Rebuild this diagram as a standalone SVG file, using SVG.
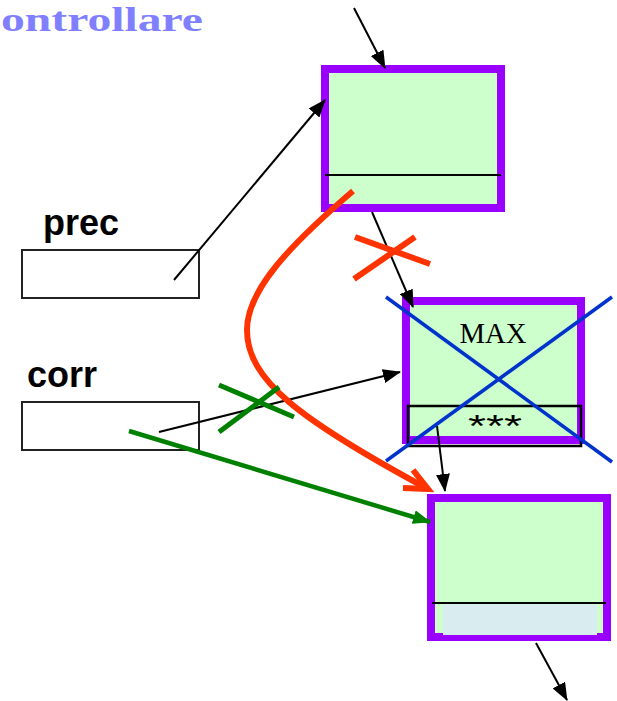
<svg xmlns="http://www.w3.org/2000/svg" width="617" height="701" viewBox="0 0 617 701">
<style>
.node{fill:#ccffcc;stroke:#9900ff;stroke-width:8}
.sep{stroke:#000;stroke-width:2}
.var{fill:#fff;stroke:#222;stroke-width:2}
.lbl{font-family:"Liberation Sans",Arial,sans-serif;font-weight:bold;font-size:36px;fill:#000}
.blk{stroke:#000;stroke-width:2;fill:none}
.red{stroke:#ff3300;stroke-width:6;fill:none}
.grn{stroke:#008000;stroke-width:5;fill:none}
.blue{stroke:#0033cc;stroke-width:3.5}
</style>
<defs>
<marker id="ah" markerWidth="18" markerHeight="14" refX="17" refY="7" orient="auto" markerUnits="userSpaceOnUse">
<path d="M0,0 L18,7 L0,14 Z" fill="#000"/>
</marker>
<marker id="gh" markerWidth="18" markerHeight="14" refX="17" refY="7" orient="auto" markerUnits="userSpaceOnUse">
<path d="M0,0 L18,7 L0,14 Z" fill="#008000"/>
</marker>
</defs>
<rect width="617" height="701" fill="#fff"/>
<text x="1" y="31" font-family="'Liberation Serif','Times New Roman',serif" font-weight="bold" font-size="34" fill="#7f7fff" textLength="202" lengthAdjust="spacingAndGlyphs">ontrollare</text>

<g id="prec">
<text class="lbl" x="43" y="235">prec</text>
<rect class="var" x="22" y="250" width="177" height="48"/>
</g>
<g id="corr">
<text class="lbl" x="27" y="387">corr</text>
<rect class="var" x="22" y="402" width="177" height="48"/>
</g>

<g id="node1">
<rect class="node" x="325" y="69" width="176" height="139"/>
<line class="sep" x1="325" y1="175" x2="501" y2="175"/>
</g>

<g id="node2">
<rect class="node" x="406" y="301" width="175" height="139"/>
<text x="493" y="343" text-anchor="middle" font-family="'Liberation Serif','Times New Roman',serif" font-size="29" fill="#000" textLength="67" lengthAdjust="spacingAndGlyphs">MAX</text>
<rect x="408" y="406" width="173" height="40" fill="none" stroke="#000" stroke-width="2.5"/>
<text x="495" y="437" text-anchor="middle" font-family="'Liberation Sans',Arial,sans-serif" font-size="32" fill="#000" textLength="54" lengthAdjust="spacingAndGlyphs">***</text>
</g>

<g id="node3">
<rect class="node" x="431" y="498" width="176" height="139"/>
<rect x="443" y="604" width="154" height="31" fill="#d9ecef"/>
<line class="sep" x1="432" y1="603" x2="606" y2="603"/>
</g>

<g id="connectors">
<line class="blk" x1="354" y1="8" x2="385" y2="68" marker-end="url(#ah)"/>
<line class="blk" x1="174" y1="280" x2="325" y2="100" marker-end="url(#ah)"/>
<line class="blk" x1="372" y1="212" x2="413" y2="307" marker-end="url(#ah)"/>
<line class="blk" x1="159" y1="432" x2="400" y2="372" marker-end="url(#ah)"/>
<line class="blk" x1="437" y1="426" x2="445" y2="491" marker-end="url(#ah)"/>
<line class="blk" x1="536" y1="643" x2="567" y2="700" marker-end="url(#ah)"/>
<line x1="129" y1="431" x2="430" y2="522" stroke="#008000" stroke-width="4.5" marker-end="url(#gh)"/>
<path class="red" d="M353,191 C290,245 247,290 247,330 C247,380 300,420 428,489"/>
<polyline class="red" points="413,470 428,489 403,488"/>
<line class="red" x1="355" y1="237" x2="430" y2="264"/>
<line class="red" x1="354" y1="279" x2="415" y2="237"/>
<line class="grn" x1="219" y1="385" x2="294" y2="417"/>
<line class="grn" x1="219" y1="432" x2="279" y2="387"/>
<line class="blue" x1="386" y1="297" x2="612" y2="462"/>
<line class="blue" x1="612" y1="297" x2="386" y2="461"/>
</g>
</svg>
